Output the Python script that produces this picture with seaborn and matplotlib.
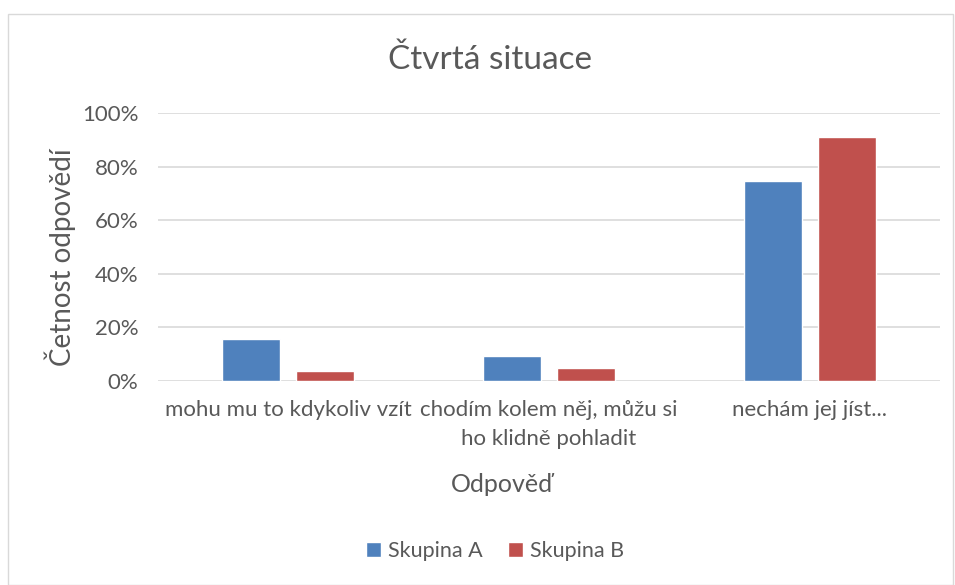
import seaborn as sns
import matplotlib.pyplot as plt
import pandas as pd
from matplotlib.patches import Rectangle
from matplotlib.ticker import PercentFormatter

# Data
kategorie = ["mohu mu to kdykoliv vzít",
             "chodím kolem něj, můžu si\nho klidně pohladit",
             "nechám jej jíst..."]
skupina_a = [0.155, 0.094, 0.748]
skupina_b = [0.037, 0.050, 0.909]
skupiny = ["Skupina A", "Skupina B"]

df = pd.DataFrame({
    "Odpověď": kategorie * 2,
    "Četnost": skupina_a + skupina_b,
    "Skupina": [skupiny[0]] * 3 + [skupiny[1]] * 3,
})

sns.set_theme(style="white")
plt.rcParams['font.family'] = ['Lato', 'DejaVu Sans']
text_col = "#595959"

fig = plt.figure(figsize=(9.55, 5.85), dpi=100)
ax = fig.add_axes([158 / 955, 1 - 381 / 585, (940 - 158) / 955, (381 - 113) / 585])

# Excel-like chart border
fig.patches.append(Rectangle((8 / 955, 0), (953 - 8) / 955, 1 - 14 / 585,
                             transform=fig.transFigure, fill=False,
                             edgecolor="#D9D9D9", linewidth=1))

sns.barplot(data=df, x="Odpověď", y="Četnost", hue="Skupina",
            palette=["#4F81BD", "#C0504D"], saturation=1,
            width=0.568, gap=0.216, ax=ax, legend=True)

ax.set_ylim(0, 1)
ax.set_yticks([0, 0.2, 0.4, 0.6, 0.8, 1.0])
ax.yaxis.set_major_formatter(PercentFormatter(1.0, decimals=0))
ax.grid(axis="y", color="#D9D9D9", linewidth=1.2)
ax.set_axisbelow(True)
for s in ax.spines.values():
    s.set_visible(False)
ax.tick_params(axis="both", length=0, labelsize=16, labelcolor=text_col)
ax.tick_params(axis="x", pad=14)
ax.tick_params(axis="y", pad=14)
for lbl in ax.get_xticklabels():
    lbl.set_linespacing(1.55)

fig.text(490 / 955, 1 - 60 / 585, "Čtvrtá situace", fontsize=24,
         color=text_col, ha="center", va="center")
ax.set_xlabel("Odpověď", fontsize=18, color=text_col, labelpad=17)
ax.xaxis.set_label_coords((502 - 158) / (940 - 158), -((485 - 381) / (381 - 113)))
ax.xaxis.label.set_va("center")
ax.set_ylabel("Četnost odpovědí", fontsize=20, color=text_col)
ax.yaxis.set_label_coords(-((158 - 60) / (940 - 158)), (381 - 257) / (381 - 113))
ax.yaxis.label.set_va("center")

leg = ax.legend(loc="center", bbox_to_anchor=(495 / 955, 1 - 551 / 585),
                bbox_transform=fig.transFigure, ncol=2, frameon=False,
                fontsize=15.5, handlelength=0.7, handleheight=0.7,
                handletextpad=0.3, columnspacing=1.2)
for t in leg.get_texts():
    t.set_color(text_col)

fig.savefig("out.png", dpi=100)
